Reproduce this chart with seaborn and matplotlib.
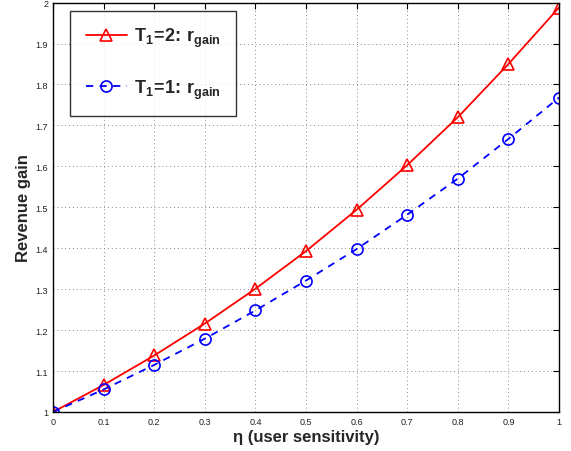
import matplotlib
matplotlib.use("Agg")
import matplotlib.pyplot as plt
import seaborn as sns
import numpy as np
import pandas as pd

# values
eta = [0.0, 0.1, 0.2, 0.3, 0.4, 0.5, 0.6, 0.7, 0.8, 0.9, 1.0]
gain_t2 = [1.000, 1.066, 1.138, 1.216, 1.301, 1.393, 1.494, 1.603, 1.720, 1.850, 1.988]
gain_t1 = [1.000, 1.055, 1.115, 1.179, 1.248, 1.321, 1.398, 1.482, 1.570, 1.667, 1.768]
x_ticks = [0, 0.1, 0.2, 0.3, 0.4, 0.5, 0.6, 0.7, 0.8, 0.9, 1]
y_ticks = [1, 1.1, 1.2, 1.3, 1.4, 1.5, 1.6, 1.7, 1.8, 1.9, 2]
labels = [r'$\mathbf{T_1\!=\!2\!:\!\ r_{gain}}$', r'$\mathbf{T_1\!=\!1\!:\!\ r_{gain}}$']

sns.set_style("white")
plt.rcParams['font.family'] = ['Liberation Sans', 'DejaVu Sans']
plt.rcParams['mathtext.fontset'] = 'custom'
plt.rcParams['mathtext.rm'] = 'Liberation Sans'
plt.rcParams['mathtext.bf'] = 'Liberation Sans:bold'
plt.rcParams['mathtext.it'] = 'Liberation Sans:italic'

df = pd.DataFrame({
    'eta': eta * 2,
    'gain': gain_t2 + gain_t1,
    'series': [labels[0]] * len(eta) + [labels[1]] * len(eta),
})

fig = plt.figure(figsize=(5.71, 4.52), dpi=100)
ax = fig.add_axes([0.0928, 0.0863, 0.8862, 0.9057])

sns.lineplot(data=df, x='eta', y='gain', hue='series', style='series',
             palette={labels[0]: 'red', labels[1]: 'blue'},
             dashes={labels[0]: '', labels[1]: (4, 3.5)},
             markers={labels[0]: '^', labels[1]: 'o'},
             markersize=8, markerfacecolor='none', markeredgewidth=1.2,
             linewidth=1.3, ax=ax, legend=False)
for line, c in zip(ax.lines, ['red', 'blue']):
    line.set_markeredgecolor(c)

ax.set_xlim(0, 1)
ax.set_ylim(1, 2)
ax.set_xticks(x_ticks)
ax.set_yticks(y_ticks)
ax.set_xticklabels([f'{v:g}' for v in x_ticks])
ax.set_yticklabels([f'{v:g}' for v in y_ticks])
ax.tick_params(direction='in', length=4, width=0.8, labelsize=6.5,
               top=True, right=True, colors='black', labelcolor='#222222')
ax.grid(True, linestyle=(0, (1, 3)), color='#888888', linewidth=0.7)
for s in ax.spines.values():
    s.set_visible(True)
    s.set_color('black')
    s.set_linewidth(1.0)

ax.set_xlabel('η (user sensitivity)', fontsize=12, fontweight='bold', labelpad=2)
ax.set_ylabel('Revenue gain', fontsize=12, fontweight='bold', labelpad=3)

leg = ax.legend(ax.lines[:2], labels, loc='upper left', bbox_to_anchor=(0.034, 0.98),
                borderaxespad=0, fontsize=13, frameon=True, fancybox=False,
                edgecolor='black', handlelength=2.3, labelspacing=1.55,
                borderpad=0.85, handletextpad=0.4)
leg.get_frame().set_linewidth(1.0)

fig.savefig('out.png', dpi=100)
